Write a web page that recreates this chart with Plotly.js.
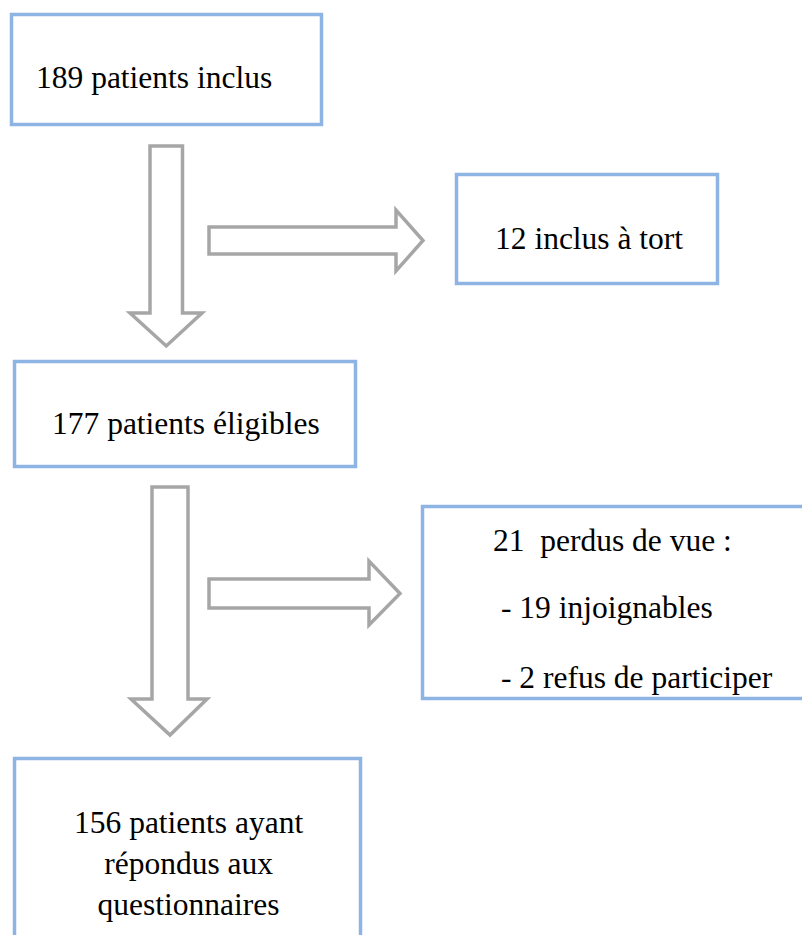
<!DOCTYPE html>
<html>
<head>
<meta charset="utf-8">
<script src="https://cdn.plot.ly/plotly-3.0.1.min.js"></script>
<style>html,body{margin:0;padding:0;background:#fff;}#chart{width:802px;height:935px;}</style>
</head>
<body>
<div id="chart"></div>
<script>
// Flowchart content
const boxLabels = [
  "189 patients inclus",
  "12 inclus à tort",
  "177 patients éligibles",
  "21\u00A0\u00A0perdus de vue :",
  "156 patients ayant<br>répondus aux<br>questionnaires"
];
const lostDetails = ["- 19 injoignables", "- 2 refus de participer"];

// Layout geometry (pixels)
const boxRects = [
  [11.5, 14.5, 321.5, 124.5],
  [456.5, 174.5, 717.5, 283.5],
  [14.5, 361.5, 355.5, 466.5],
  [422.5, 506.5, 812, 698.5],
  [14.5, 758.5, 360.5, 950]
];
const labelPos = [
  {x: 34, y: 77, a: "left"},
  {x: 589, y: 238, a: "center"},
  {x: 185.5, y: 423, a: "center"},
  {x: 491, y: 540.5, a: "left"},
  {x: 188, y: 863, a: "center"}
];
const detailPos = [
  {x: 499, y: 607.5, a: "left"},
  {x: 499, y: 677.5, a: "left"}
];
// arrows: down arrows [xl, xr, ytop, yhead, headL, headR, ytip]
const downArrows = [
  [150, 182.5, 146, 313, 130, 202, 346],
  [152, 188, 487, 699, 131, 207, 735]
];
// right arrows [xleft, ytop, ybot, xhead, headTop, headBot, xtip]
const rightArrows = [
  [209, 227, 254, 396, 210, 271, 423],
  [209, 579, 608, 369, 561, 625, 400]
];

const boxColor = "#8EB4E3";
const arrowColor = "#A6A6A6";
const shapes = [];
boxRects.forEach(r => shapes.push({
  type: "rect", xref: "x", yref: "y", x0: r[0], y0: r[1], x1: r[2], y1: r[3],
  line: {color: boxColor, width: 3.5}, fillcolor: "rgba(0,0,0,0)"
}));
downArrows.forEach(a => {
  const [xl, xr, yt, yh, hl, hr, tip] = a;
  const xm = (xl + xr) / 2;
  shapes.push({
    type: "path", xref: "x", yref: "y",
    path: `M${xl},${yt} L${xr},${yt} L${xr},${yh} L${hr},${yh} L${xm},${tip} L${hl},${yh} L${xl},${yh} Z`,
    line: {color: arrowColor, width: 3.5}, fillcolor: "rgba(0,0,0,0)"
  });
});
rightArrows.forEach(a => {
  const [xl, yt, yb, xh, ht, hb, tip] = a;
  const ym = (yt + yb) / 2;
  shapes.push({
    type: "path", xref: "x", yref: "y",
    path: `M${xl},${yt} L${xh},${yt} L${xh},${ht} L${tip},${ym} L${xh},${hb} L${xh},${yb} L${xl},${yb} Z`,
    line: {color: arrowColor, width: 3.5}, fillcolor: "rgba(0,0,0,0)"
  });
});

const font = {family: "Liberation Serif", size: 31.5, color: "#000"};
const annotations = [];
boxLabels.forEach((t, i) => annotations.push({
  text: t, x: labelPos[i].x, y: labelPos[i].y, xref: "x", yref: "y",
  xanchor: labelPos[i].a, yanchor: "middle", align: "center", showarrow: false, font: font
}));
lostDetails.forEach((t, i) => annotations.push({
  text: t, x: detailPos[i].x, y: detailPos[i].y, xref: "x", yref: "y",
  xanchor: detailPos[i].a, yanchor: "middle", showarrow: false, font: font
}));

Plotly.newPlot("chart", [], {
  width: 802, height: 935,
  margin: {l: 0, r: 0, t: 0, b: 0, pad: 0},
  paper_bgcolor: "#fff", plot_bgcolor: "#fff",
  font: {family: "Liberation Serif"},
  xaxis: {range: [0, 802], visible: false, fixedrange: true},
  yaxis: {range: [935, 0], visible: false, fixedrange: true},
  shapes: shapes, annotations: annotations, showlegend: false
}, {staticPlot: true, displayModeBar: false});
</script>
</body>
</html>
